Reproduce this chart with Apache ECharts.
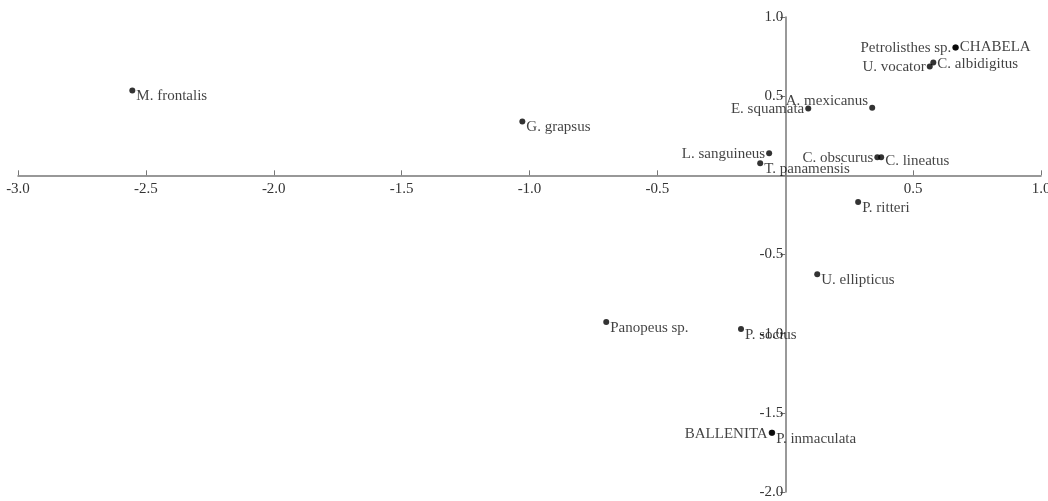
<!DOCTYPE html>
<html>
<head>
<meta charset="utf-8">
<script src="https://cdn.jsdelivr.net/npm/echarts@6/dist/echarts.min.js"></script>
<style>
  html, body { margin: 0; padding: 0; background: #fff; }
  #chart { width: 1048px; height: 501px; }
</style>
</head>
<body>
<div id="chart"></div>
<script>
// species names and their ordination scores
const species = [
  "M. frontalis", "G. grapsus", "Petrolisthes sp.", "CHABELA",
  "U. vocator", "C. albidigitus", "E. squamata", "A. mexicanus",
  "L. sanguineus", "T. panamensis", "C. obscurus", "C. lineatus",
  "P. ritteri", "U. ellipticus", "Panopeus sp.", "P. socius",
  "BALLENITA", "P. inmaculata"
]
const xScores = [
  -2.553, -1.028, 0.665, 0.667,
  0.565, 0.579, 0.090, 0.340,
  -0.063, -0.098, 0.360, 0.375,
  0.285, 0.125, -0.700, -0.173,
  -0.053, -0.051
]
const yScores = [
  0.536, 0.340, 0.807, 0.807,
  0.688, 0.713, 0.422, 0.427,
  0.139, 0.076, 0.115, 0.115,
  -0.168, -0.624, -0.926, -0.970,
  -1.626, -1.626
]
const xTicks = { min: -3, max: 1, step: 0.5 }
const yTicks = { min: -2, max: 1, step: 0.5 }

// labels drawn on the left side of the dot
const leftLabels = ["Petrolisthes sp.", "U. vocator", "E. squamata", "A. mexicanus",
  "L. sanguineus", "C. obscurus", "BALLENITA"]

const font = "'Liberation Serif', 'Times New Roman', serif"
const dot = 6

const points = species.map(function (name, i) {
  const left = leftLabels.indexOf(name) >= 0
  // vertical shift of the label centre relative to the dot
  let dy = left ? 1 : 6
  if (name === "A. mexicanus") dy = -7
  if (name === "CHABELA") dy = 0
  if (name === "C. albidigitus") dy = 2
  if (name === "C. lineatus") dy = 4
  return {
    name: name,
    value: [xScores[i], yScores[i]],
    label: {
      position: left ? [-1, dot / 2 + dy] : [dot + 1, dot / 2 + dy],
      align: left ? "right" : "left",
      verticalAlign: "middle"
    }
  }
})

const fmt = function (v) {
  return Math.abs(v) < 1e-9 ? "" : v.toFixed(1)
}

// grid box; the axes are moved onto the zero lines with offsets
const W = 1048, H = 501
const box = { left: 18, right: 7, top: 17, bottom: 9 }
const gw = W - box.left - box.right
const gh = H - box.top - box.bottom
const xAxisShift = -gh * (0 - yTicks.min) / (yTicks.max - yTicks.min)
const yAxisShift = -gw * (0 - xTicks.min) / (xTicks.max - xTicks.min)

const chart = echarts.init(document.getElementById("chart"))
chart.setOption({
  backgroundColor: "#fff",
  animation: false,
  grid: Object.assign({ outerBoundsMode: "none", containLabel: false }, box),
  xAxis: {
    type: "value",
    position: "bottom",
    offset: xAxisShift,
    min: xTicks.min,
    max: xTicks.max,
    interval: xTicks.step,
    axisLine: { onZero: false, lineStyle: { color: "#777", width: 1.5 } },
    axisTick: { show: true, inside: true, length: 5, lineStyle: { color: "#777" } },
    axisLabel: { formatter: fmt, color: "#333", fontFamily: font, fontSize: 15, margin: 6 },
    splitLine: { show: false }
  },
  yAxis: {
    type: "value",
    position: "left",
    offset: yAxisShift,
    min: yTicks.min,
    max: yTicks.max,
    interval: yTicks.step,
    axisLine: { show: true, onZero: false, lineStyle: { color: "#777", width: 1.5 } },
    axisTick: { show: true, length: 5, lineStyle: { color: "#777" } },
    axisLabel: { formatter: fmt, color: "#333", fontFamily: font, fontSize: 15, margin: 2 },
    splitLine: { show: false }
  },
  series: [
    {
      type: "scatter",
      symbol: "circle",
      symbolSize: dot,
      itemStyle: { color: "#000" },
      label: {
        show: true,
        formatter: "{b}",
        color: "#111",
        fontFamily: font,
        fontSize: 15
      },
      labelLayout: { hideOverlap: false },
      data: points
    }
  ]
})
</script>
</body>
</html>
